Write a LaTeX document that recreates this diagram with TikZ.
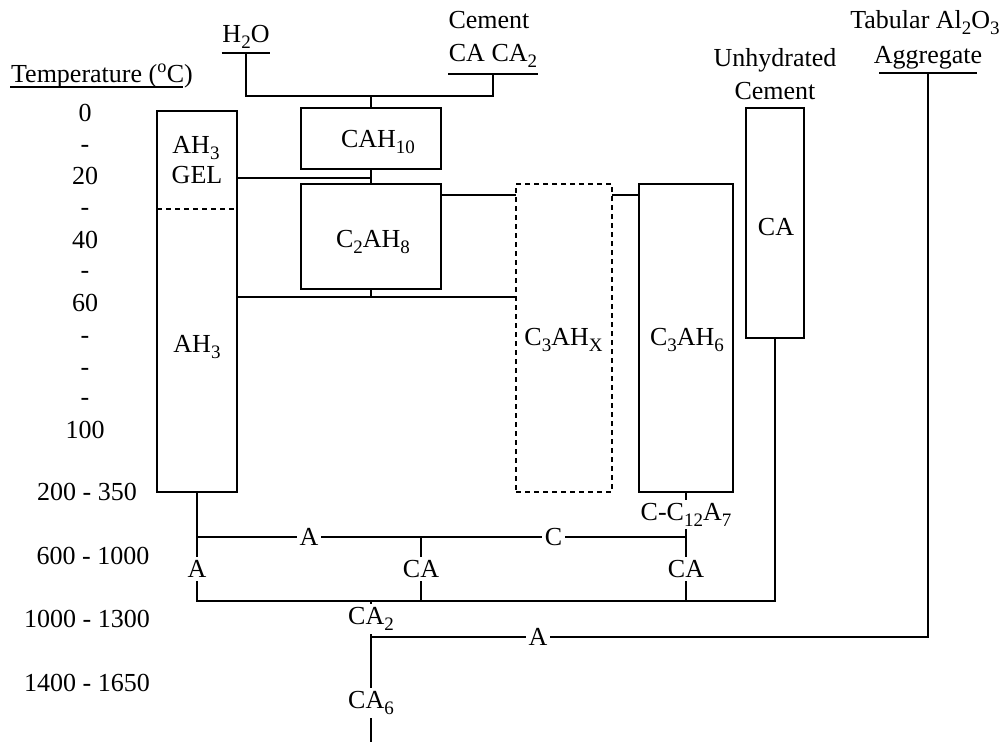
\documentclass[tikz,border=0pt]{standalone}
\usepackage{fontspec}
\setmainfont{Liberation Serif}
\usetikzlibrary{positioning}
\newcommand{\chemsub}[1]{\raisebox{-6pt}{\fontsize{19}{19}\selectfont #1}}

\begin{document}
\begin{tikzpicture}[
        x=1pt, y=-1pt,
        font=\fontsize{26}{31}\selectfont,
        line width=1.6pt,
        phase/.style={rectangle, draw, inner sep=0pt, outer sep=0pt},
        guess/.style={phase, dash pattern=on 5pt off 4pt},
        txt/.style={anchor=base, inner sep=0pt},
        temp/.style={inner sep=0pt},
        product/.style={fill=white, inner sep=3pt}
    ]
        \useasboundingbox (0,0) rectangle (1002,742);

        % headings
        \node[txt] (temphead) at (102,82) {Temperature (\textsuperscript{o}C)};
        \draw ([yshift=-5pt]temphead.base west) -- ([yshift=-5pt,xshift=-11pt]temphead.base east);
        \node[txt] (h2o) at (246,42) {H\chemsub{2}O};
        \coordinate (h2ou) at ([yshift=-11pt]h2o.base);
        \draw ([yshift=-11pt]h2o.base west) -- ([yshift=-11pt]h2o.base east);
        \node[txt] (cem) at (489,28) {Cement};
        \node[txt] (cemca) at (493,61) {CA CA\chemsub{2}};
        \coordinate (cemu) at ([yshift=-13pt]cemca.base);
        \draw ([yshift=-13pt]cemca.base west) -- ([yshift=-13pt]cemca.base east);
        \node[txt] (unh) at (775,66) {Unhydrated};
        \node[txt] (unhcem) at (775,99) {Cement};
        \node[txt] (tab) at (925,28) {Tabular Al\chemsub{2}O\chemsub{3}};
        \node[txt] (agg) at (928,63) {Aggregate};
        \coordinate (aggu) at ([yshift=-10pt]agg.base);
        \draw ([yshift=-10pt,xshift=6pt]agg.base west) -- ([yshift=-10pt,xshift=-6pt]agg.base east);

        % temperature scale
        \foreach \y/\lbl [count=\i] in {113/0, 149/-, 176/20, 212/-, 240/40, 275/-, 303/60, 340/-, 372/-, 402/-, 430/100}
            \node[temp] (t\i) at (85,\y) {\lbl};
        \node[temp] (t12) at (87,492) {200 - 350};
        \node[temp] (t13) at (93,556) {600 - 1000};
        \node[temp] (t14) at (87,619) {1000 - 1300};
        \node[temp] (t15) at (87,683) {1400 - 1650};

        % hydrate phases
        \node[phase, minimum width=80pt, minimum height=381pt] (ah) at (197,301.5) {};
        \draw[dash pattern=on 5pt off 4pt] (ah.west |- 0,209) -- (ah.east |- 0,209);
        \node[txt] (ahgel) at (196,153) {AH\chemsub{3}};
        \node[txt] (gel) at (197,183) {GEL};
        \node[txt] (ahtxt) at (197,352) {AH\chemsub{3}};
        \node[phase, minimum width=140pt, minimum height=61pt] (cah) at (371,138.5) {};
        \node[txt] (cahtxt) at (378,147) {CAH\chemsub{10}};
        \node[phase, minimum width=140pt, minimum height=105pt] (c2ah) at (371,236.5) {};
        \node[txt] (c2ahtxt) at (373,247) {C\chemsub{2}AH\chemsub{8}};
        \node[guess, minimum width=96pt, minimum height=308pt] (c3ahx) at (564,338) {};
        \node[txt] (c3ahxtxt) at (563.5,345) {C\chemsub{3}AH\chemsub{X}};
        \node[phase, minimum width=94pt, minimum height=308pt] (c3ah) at (686,338) {};
        \node[txt] (c3ahtxt) at (687,345) {C\chemsub{3}AH\chemsub{6}};
        \node[phase, minimum width=58pt, minimum height=230pt] (uca) at (775,223) {};
        \node[txt] (ucatxt) at (776,235) {CA};

        % joints
        \coordinate (jtop) at (cah.north |- 0,96);
        \coordinate (jgel) at (cah.south |- 0,178);
        \coordinate (jmid) at (c2ah.south |- 0,297);
        \coordinate (jhyd) at (c3ahx.west |- 0,195);
        \coordinate (r1a) at (ah.south |- 0,537);
        \coordinate (r1b) at (421,537);
        \coordinate (r1c) at (c3ah.south |- 0,537);
        \coordinate (r2a) at (ah.south |- 0,601);
        \coordinate (r2b) at (421,601);
        \coordinate (r2c) at (c3ah.south |- 0,601);
        \coordinate (r2m) at (371,601);
        \coordinate (r3m) at (371,637);
        \coordinate (bot) at (371,742);

        \draw (h2ou) |- (jtop);
        \draw (cemu) |- (jtop);
        \draw (jtop) -- (cah.north);
        \draw (cah.south) -- (c2ah.north);
        \draw (ah.east |- jgel) -- (jgel);
        \draw (c2ah.south) -- (jmid);
        \draw (ah.east |- jmid) -- (c3ahx.west |- jmid);
        \draw (c2ah.east |- jhyd) -- (jhyd);
        \draw (c3ahx.east |- jhyd) -- (c3ah.west |- jhyd);

        % firing
        \draw (ah.south) -- (r1a) -- node[product] {A} (r1b) -- node[product] {C} (r1c);
        \draw (r1a) -- node[product] {A} (r2a) -- (uca.south |- r2a) -- (uca.south);
        \draw (r1b) -- node[product] {CA} (r2b);
        \draw (c3ah.south) -- node[product] {C-C\chemsub{12}A\chemsub{7}} (r1c) -- node[product] {CA} (r2c);
        \draw (r2m) -- node[product] {CA\chemsub{2}} (r3m) -- node[product, pos=0.63] {CA\chemsub{6}} (bot);
        \draw (aggu) |- node[product, pos=0.85] {A} (r3m);
    \end{tikzpicture}
\end{document}
